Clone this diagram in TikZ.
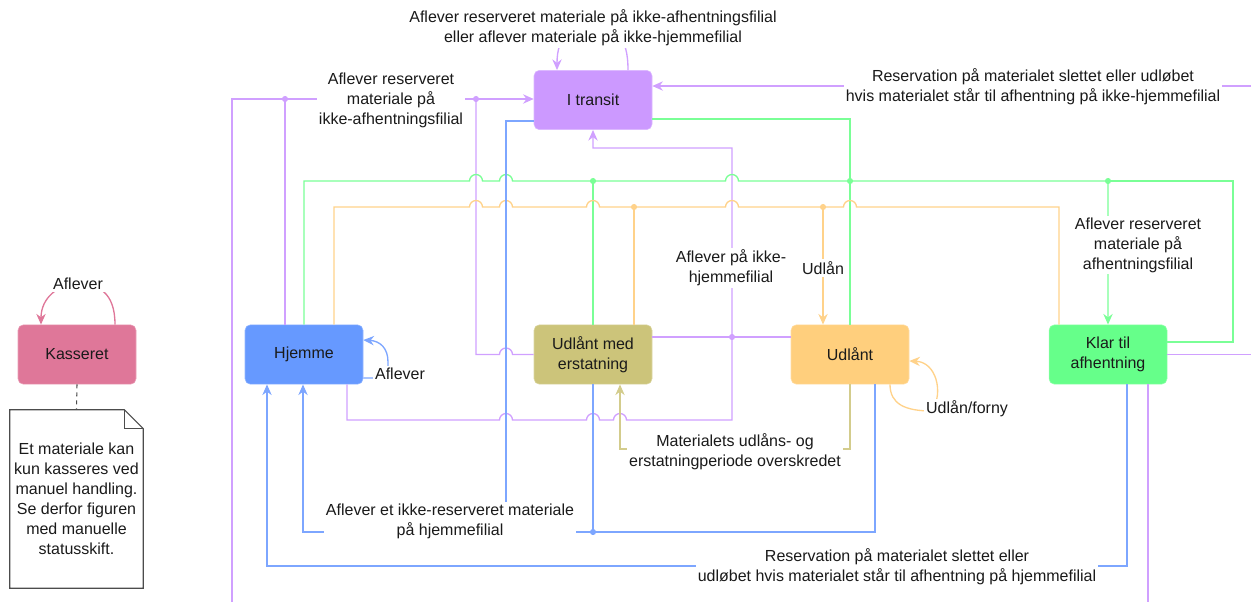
\documentclass[tikz,border=0pt]{standalone}
\usepackage{fontspec}
\setmainfont{Liberation Sans}
\usetikzlibrary{arrows.meta,calc}
\definecolor{fP}{HTML}{CC99FF}
\definecolor{fB}{HTML}{6699FF}
\definecolor{fO}{HTML}{CCC47A}
\definecolor{fY}{HTML}{FFCF7D}
\definecolor{fG}{HTML}{66FF8A}
\definecolor{fK}{HTML}{DF7799}
\definecolor{lP}{HTML}{D0A0FF}
\definecolor{lB}{HTML}{7DA6FF}
\definecolor{lO}{HTML}{D3CC8C}
\definecolor{lY}{HTML}{FFD28A}
\definecolor{lG}{HTML}{7AFF96}
\definecolor{txt}{HTML}{1A1A1A}
\begin{document}
\begin{tikzpicture}[x=0.75pt,y=-0.75pt,
  every node/.style={font=\fontsize{12}{15}\selectfont, text=txt},
  stbox/.style={rectangle, rounded corners=4pt, minimum width=88.5pt, minimum height=44.5pt, align=center, inner sep=2pt},
  lbl/.style={fill=white, inner sep=1.5pt, align=center},
  ln/.style={line width=1pt},
  endtip/.style={-{Stealth[length=8pt,width=7pt,inset=2.6pt]}},
  jdot/.style={radius=2.3pt}]
\useasboundingbox (0,0) rectangle (1251,601);
\begin{scope}
\clip (0,0) rectangle (1251,601);
% ---------- states
\node[stbox, fill=fP, draw=fP!70!white] (transit) at (593,100) {I transit};
\node[stbox, fill=fB, draw=fB!70!white] (hjemme) at (304,354.5) {Hjemme};
\node[stbox, fill=fO, draw=fO!70!white] (ume) at (593,354.5) {Udlånt med\\erstatning};
\node[stbox, fill=fY, draw=fY!70!white] (udlant) at (850,354.5) {Udlånt};
\node[stbox, fill=fG, draw=fG!70!white] (klar) at (1108,354.5) {Klar til\\afhentning};
\node[stbox, fill=fK, draw=fK!70!white] (kass) at (77,354.5) {Kasseret};
% ---------- note
\node[minimum width=99.75pt, minimum height=133.5pt, align=center, inner sep=0pt] (note) at (76.5,499) {Et materiale kan\\kun kasseres ved\\manuel handling.\\Se derfor figuren\\med manuelle\\statusskift.};
\draw[line width=0.8pt, draw=black!70] (note.north west) -- ($(note.north east)+(-19,0)$) -- ($(note.north east)+(0,19)$) -- (note.south east) -- (note.south west) -- cycle;
\draw[line width=0.8pt, draw=black!70] ($(note.north east)+(-19,0)$) -- ($(note.north east)+(-19,19)$) -- ($(note.north east)+(0,19)$);
\draw[line width=0.8pt, draw=black!70, dashed] (kass.south) -- (note.north);
% ---------- purple
\draw[ln, lP, endtip] (1148,0 |- klar.south) -- (1148,640) -- (232,640) -- (232,99) -- (transit.west |- 0,99);
\draw[ln, lP] (285,0 |- hjemme.north) -- (285,99);
\draw[ln, lP] (ume.west) -- (512.5,354.5) arc[start angle=0,end angle=180,radius=4.875pt] -- (476,354.5) -- (476,99);
\draw[ln, lP, endtip] (klar.east) -- (1290,354.5) -- (1290,86) -- (transit.east |- 0,86);
\draw[ln, lP, endtip] (628,0 |- transit.north) .. controls (628,35) and (615,28) .. (593,28) .. controls (571,28) and (557,35) .. (557,0 |- transit.north);
\draw[ln, lP, endtip] (347,0 |- hjemme.south) -- (347,420) -- (499.5,420) arc[start angle=180,end angle=0,radius=4.875pt] -- (586.5,420) arc[start angle=180,end angle=0,radius=4.875pt] -- (613.5,420) arc[start angle=180,end angle=0,radius=4.875pt] -- (732,420) -- (732,148) -- (593,148) -- (transit.south);
\draw[ln, lP] (ume.east |- 0,337) -- (udlant.west |- 0,337);
\fill[lP] (285,99) circle[jdot];
\fill[lP] (476,99) circle[jdot];
\fill[lP] (732,337) circle[jdot];
% ---------- green
\draw[ln, lG, endtip] (304,0 |- hjemme.north) -- (304,181) -- (469.5,181) arc[start angle=180,end angle=0,radius=4.875pt] -- (499.5,181) arc[start angle=180,end angle=0,radius=4.875pt] -- (725.5,181) arc[start angle=180,end angle=0,radius=4.875pt] -- (1108,181) -- (klar.north);
\draw[ln, lG] (klar.east |- 0,342) -- (1233,342) -- (1233,181) -- (1108,181);
\draw[ln, lG] (ume.north) -- (593,181);
\draw[ln, lG] (transit.east |- 0,119) -- (850,119) -- (udlant.north);
\fill[lG] (593,181) circle[jdot];
\fill[lG] (850,181) circle[jdot];
\fill[lG] (1108,181) circle[jdot];
% ---------- orange
\coordinate (jY) at (823,207);
\draw[ln, lY] (334,0 |- hjemme.north) -- (334,207) -- (469.5,207) arc[start angle=180,end angle=0,radius=4.875pt] -- (499.5,207) arc[start angle=180,end angle=0,radius=4.875pt] -- (586.5,207) arc[start angle=180,end angle=0,radius=4.875pt] -- (725.5,207) arc[start angle=180,end angle=0,radius=4.875pt] -- (jY);
\draw[ln, lY] (1059,0 |- klar.north) -- (1059,207) -- (856.5,207) arc[start angle=0,end angle=180,radius=4.875pt] -- (jY);
\draw[ln, lY] (634,0 |- ume.north) -- (634,207);
\draw[ln, lY, endtip] (jY) -- (823,0 |- udlant.north);
\fill[lY] (634,207) circle[jdot];
\fill[lY] (jY) circle[jdot];
\draw[ln, lY, endtip] (890,0 |- udlant.south) .. controls (890,404) and (905,411) .. (932,411) .. controls (944,392) and (936,362) .. (udlant.east |- 0,361);
% ---------- olive
\draw[ln, lO, endtip] (udlant.south) -- (850,449) -- (620,449) -- (620,0 |- ume.south);
% ---------- blue
\draw[ln, lB] (transit.west |- 0,121) -- (506,121) -- (506,532);
\draw[ln, lB] (ume.south) -- (593,532);
\draw[ln, lB, endtip] (875,0 |- udlant.south) -- (875,532) -- (303,532) -- (303,0 |- hjemme.south);
\draw[ln, lB, endtip] (1127,0 |- klar.south) -- (1127,566) -- (267,566) -- (267,0 |- hjemme.south);
\draw[ln, lB, endtip] (hjemme.east |- 0,378) -- (388,378) -- (388,362) .. controls (388,348) and (380,341) .. (hjemme.east |- 0,340);
\fill[lB] (593,532) circle[jdot];
% ---------- pink
\draw[ln, fK, endtip] (115,0 |- kass.north) .. controls (115,292) and (98,284) .. (78,284) .. controls (58,284) and (41,298) .. (41,0 |- kass.north);
% ---------- labels
\node[lbl] at (593,28) {Aflever reserveret materiale på ikke-afhentningsfilial\\eller aflever materiale på ikke-hjemmefilial};
\node[lbl] at (391,100) {Aflever reserveret\\materiale på\\ikke-afhentningsfilial};
\node[lbl] at (1033,87) {Reservation på materialet slettet eller udløbet\\hvis materialet står til afhentning på ikke-hjemmefilial};
\node[lbl] at (731,268) {Aflever på ikke-\\hjemmefilial};
\node[lbl] at (823,268) {Udlån};
\node[lbl] at (1138,245) {Aflever reserveret\\materiale på\\afhentningsfilial};
\node[lbl] at (400,374) {Aflever};
\node[lbl] at (967,409) {Udlån/forny};
\node[lbl] at (735,452) {Materialets udlåns- og\\erstatningperiode overskredet};
\node[lbl] at (450,521) {Aflever et ikke-reserveret materiale\\på hjemmefilial};
\node[lbl] at (897,567) {Reservation på materialet slettet eller\\udløbet hvis materialet står til afhentning på hjemmefilial};
\node[lbl] at (78,284) {Aflever};
\end{scope}
\end{tikzpicture}
\end{document}
